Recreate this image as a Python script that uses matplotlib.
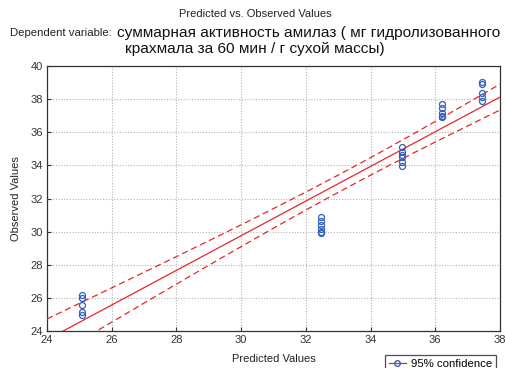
import numpy as np
import matplotlib
matplotlib.use("Agg")
import matplotlib.pyplot as plt
from matplotlib.lines import Line2D

plt.rcParams['font.family'] = ['Liberation Sans', 'DejaVu Sans']

# Data
pred_levels = [25.07, 32.47, 34.96, 36.20, 37.44]
obs_g1 = [26.17, 25.97, 25.57, 25.13, 24.97]
obs_g2 = [30.90, 30.66, 30.40, 30.14, 30.00, 29.90]
obs_g3 = [35.09, 34.83, 34.60, 34.52, 34.20, 33.96]
obs_g4 = [37.69, 37.45, 37.18, 37.00, 36.90]
obs_g5 = [39.05, 38.90, 38.35, 38.15, 37.90]
obs_groups = [obs_g1, obs_g2, obs_g3, obs_g4, obs_g5]

xticks = [24, 26, 28, 30, 32, 34, 36, 38]
yticks = [24, 26, 28, 30, 32, 34, 36, 38, 40]

x = np.concatenate([[p] * len(g) for p, g in zip(pred_levels, obs_groups)])
y = np.concatenate(obs_groups)

fig = plt.figure(figsize=(5.05, 3.68), dpi=100)
ax = fig.add_axes([0.093, 0.1005, 0.897, 0.72])

# regression + 95% confidence of the mean
n = len(x)
b, a = np.polyfit(x, y, 1)
res = y - (a + b * x)
s = np.sqrt(np.sum(res ** 2) / (n - 2))
t = 2.06
xbar = x.mean()
sxx = np.sum((x - xbar) ** 2)
xx = np.linspace(24, 38, 200)
yy = a + b * xx
hw = t * s * np.sqrt(1 / n + (xx - xbar) ** 2 / sxx)

red = '#e8262a'
ax.plot(xx, yy, color=red, lw=0.9, zorder=3)
ax.plot(xx, yy + hw, color=red, lw=0.9, ls=(0, (5, 3)), zorder=3)
ax.plot(xx, yy - hw, color=red, lw=0.9, ls=(0, (5, 3)), zorder=3)
ax.plot(x, y, ls='none', marker='o', ms=4.3, mfc='none', mec='#2f5fbf', mew=0.9, zorder=4)

ax.set_xlim(24, 38)
ax.set_ylim(24, 40)
ax.set_xticks(xticks)
ax.set_yticks(yticks)
ax.grid(True, color='#b5b5b5', ls=(0, (1, 1.5)), lw=0.8)
ax.tick_params(direction='in', length=3, labelsize=8, colors='#333333', pad=3)
for sp in ax.spines.values():
    sp.set_color('#333333')
    sp.set_linewidth(0.9)

ax.set_xlabel('Predicted Values', fontsize=8, color='#222222', labelpad=6)
ax.set_ylabel('Observed Values', fontsize=8, color='#222222', labelpad=7)

fig.text(0.505, 0.962, 'Predicted vs. Observed Values', ha='center', va='center', fontsize=8, color='#222222')
fig.text(0.02, 0.909, 'Dependent variable:', ha='left', va='center', fontsize=8.2, color='#222222')
fig.text(0.231, 0.909, 'суммарная активность амилаз ( мг гидролизованного', ha='left', va='center', fontsize=11.1, color='#111111')
fig.text(0.505, 0.866, 'крахмала за 60 мин / г сухой массы)', ha='center', va='center', fontsize=11.1, color='#111111')

handle = Line2D([0, 1], [0, 0], color=red, lw=0.9, ls='-', marker='o', mfc='none', mec='#2f5fbf', ms=4)
leg = fig.legend([handle], ['95% confidence'], loc='lower right', bbox_to_anchor=(0.993, -0.03),
                 fontsize=8.2, frameon=True, fancybox=False, edgecolor='#222222',
                 handlelength=1.5, handletextpad=0.4, borderpad=0.35)
leg.get_frame().set_linewidth(0.9)

fig.savefig('out.png', dpi=100)
